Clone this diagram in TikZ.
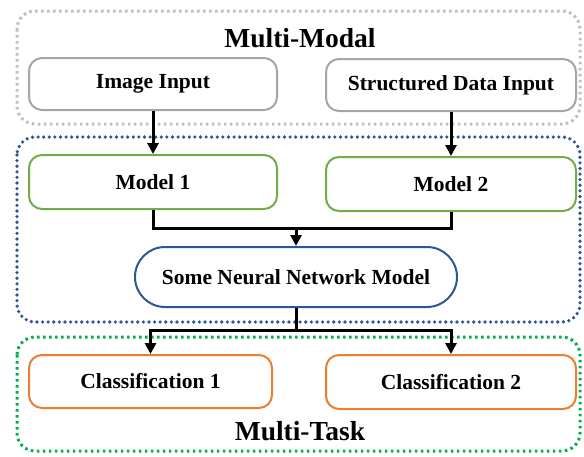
\documentclass[tikz,border=0pt]{standalone}
\usepackage{fontspec}
\setmainfont{Liberation Serif}
\usetikzlibrary{arrows.meta}

\definecolor{boxgray}{HTML}{A5A5A5}
\definecolor{dotgray}{HTML}{BFBFBF}
\definecolor{modelgreen}{HTML}{70AD47}
\definecolor{nnblue}{HTML}{2F5597}
\definecolor{taskgreen}{HTML}{00B050}
\definecolor{clsorange}{HTML}{ED7D31}

\tikzset{
  stage/.style={draw, line width=2pt, rounded corners=13pt, fill=white,
    font=\fontsize{21.5}{25}\selectfont\bfseries, inner sep=0pt},
  group/.style={line width=3pt, dash pattern=on 2.6pt off 3.4pt, rounded corners=18pt},
  title/.style={font=\fontsize{27.5}{32}\selectfont\bfseries},
  flow/.style={line width=3pt},
  flowarr/.style={line width=3pt, -{Triangle[width=11pt,length=11pt]}}
}

\begin{document}
\begin{tikzpicture}[x=1pt, y=-1pt]
\useasboundingbox (0,0) rectangle (584,456);
% containers
\draw[group, dotgray] (17,11) rectangle (580,124);
\draw[group, nnblue, line width=3.6pt, line cap=round, dash pattern=on 0pt off 5.6pt] (17,137) rectangle (580,322);
\draw[group, taskgreen] (17,337) rectangle (580,451);
\node[title] (modaltitle) at (300,38) {Multi-Modal};
\node[title] (tasktitle) at (300,431) {Multi-Task};
% boxes
\node[stage, draw=boxgray, minimum width=248pt, minimum height=52pt] (imgin) at (153,84) {Image Input};
\node[stage, draw=boxgray, minimum width=250pt, minimum height=52pt] (strin) at (451,85) {Structured Data Input};
\node[stage, draw=modelgreen, minimum width=248pt, minimum height=54pt] (model1) at (153,182) {Model 1};
\node[stage, draw=modelgreen, minimum width=250pt, minimum height=54pt] (model2) at (451,184) {Model 2};
\node[stage, draw=nnblue, rounded corners=30pt, minimum width=322pt, minimum height=60pt] (nn) at (296,277) {Some Neural Network Model};
\node[stage, draw=clsorange, minimum width=243pt, minimum height=53pt] (cls1) at (150.5,381.5) {Classification 1};
\node[stage, draw=clsorange, minimum width=250pt, minimum height=54pt] (cls2) at (451,382) {Classification 2};
% connectors
\coordinate (merge) at (296,228);
\coordinate (split) at (296,330);
\draw[flowarr] (imgin) -- (model1);
\draw[flowarr] (strin) -- (model2);
\draw[flow] (model1.south) |- (merge);
\draw[flow] (model2.south) |- (merge);
\draw[flowarr] (merge) -- (nn.north);
\draw[flow] (nn.south) -- (split);
\draw[flowarr] (split) -| (cls1.north);
\draw[flowarr] (split) -| (cls2.north);
\end{tikzpicture}
\end{document}
